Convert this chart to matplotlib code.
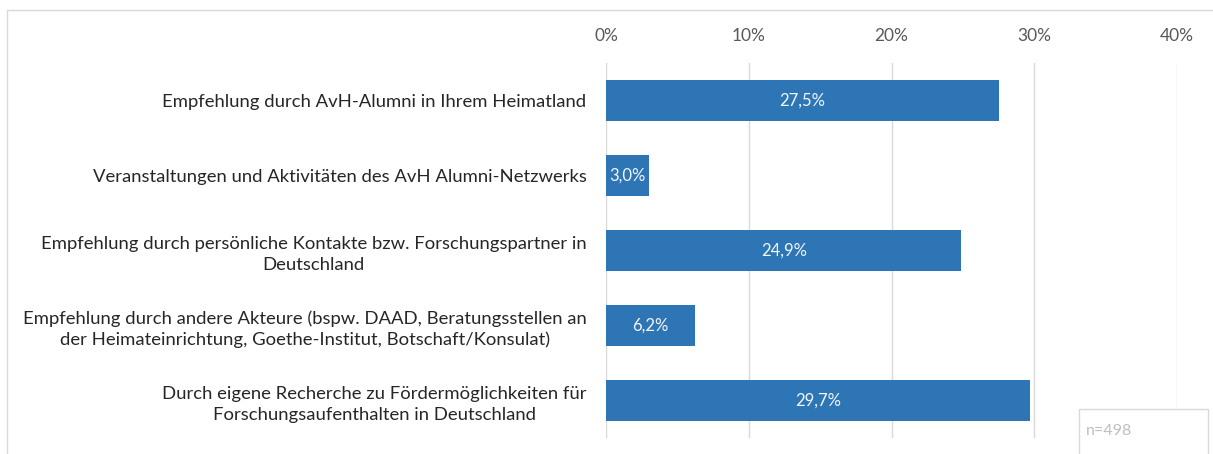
import matplotlib.pyplot as plt
from matplotlib.patches import Rectangle

# Daten
kategorien = [
    "Empfehlung durch AvH-Alumni in Ihrem Heimatland",
    "Veranstaltungen und Aktivitäten des AvH Alumni-Netzwerks",
    "Empfehlung durch persönliche Kontakte bzw. Forschungspartner in\nDeutschland",
    "Empfehlung durch andere Akteure (bspw. DAAD, Beratungsstellen an\nder Heimateinrichtung, Goethe-Institut, Botschaft/Konsulat)",
    "Durch eigene Recherche zu Fördermöglichkeiten für\nForschungsaufenthalten in Deutschland",
]
werte = [27.5, 3.0, 24.9, 6.2, 29.7]
ticks = [0, 10, 20, 30, 40]
n_text = "n=498"

plt.rcParams['font.family'] = ['Lato', 'DejaVu Sans']

W, H = 1213, 454
fig = plt.figure(figsize=(W / 100, H / 100), dpi=100)

# Achse in Pixelkoordinaten platzieren
x0, x1 = 606, 1177
y0, y1 = 63, 438
ax = fig.add_axes([x0 / W, 1 - y1 / H, (x1 - x0) / W, (y1 - y0) / H])

pos = list(range(len(werte)))
ax.barh(pos, werte, height=0.55, color='#2E75B6', zorder=3)
for p, v in zip(pos, werte):
    ax.text(v / 2, p, f"{v:.1f}%".replace('.', ','), ha='center', va='center',
            color='#f2f7fc', fontsize=12, zorder=4)

ax.set_xlim(0, 40)
ax.set_ylim(len(werte) - 0.5, -0.5)
ax.set_xticks(ticks)
ax.set_xticklabels([f"{t}%" for t in ticks])
ax.xaxis.tick_top()
ax.tick_params(axis='x', length=0, pad=14, labelsize=12.5, labelcolor='#595959')
ax.set_yticks(pos)
ax.set_yticklabels(kategorien, fontsize=13.3, color='#262626',
                   multialignment='center', linespacing=1.35)
ax.tick_params(axis='y', length=0, pad=14)
ax.grid(axis='x', color='#d9d9d9', linewidth=1, zorder=0)
for s in ax.spines.values():
    s.set_visible(False)

# Rahmen um das Diagramm
fig.add_artist(Rectangle((7 / W, -0.1), 1.2, 1 - 10 / H + 0.1, transform=fig.transFigure,
                         fill=False, edgecolor='#d9d9d9', linewidth=1))

# n-Box
fig.add_artist(Rectangle((1079 / W, -0.1), (1208 - 1079) / W, (454 - 409) / H + 0.1,
                         transform=fig.transFigure, facecolor='white',
                         edgecolor='#d9d9d9', linewidth=1, zorder=5))
fig.text(1086 / W, 1 - 431 / H, n_text, ha='left', va='center', fontsize=11.5,
         color='#bfbfbf', zorder=6)

fig.savefig('out.png', dpi=100)
